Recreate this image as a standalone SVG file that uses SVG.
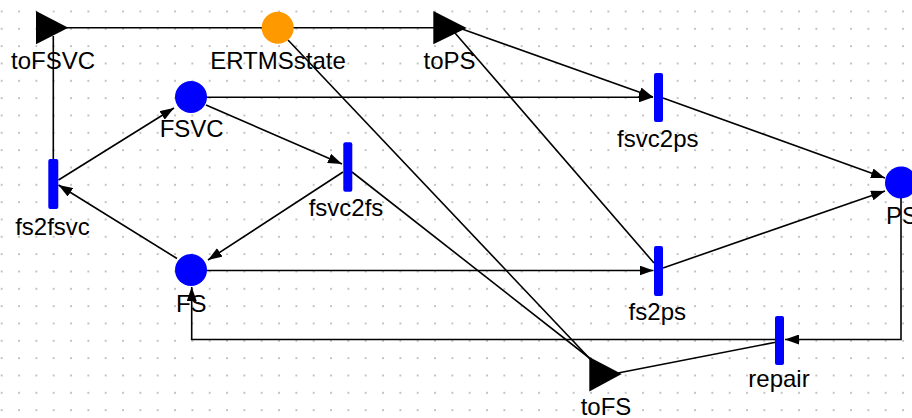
<svg xmlns="http://www.w3.org/2000/svg" width="912" height="418" viewBox="0 0 912 418">
<style>
.lbl{font-family:"Liberation Sans",Arial,sans-serif;font-size:24px;fill:#000;text-anchor:middle}
.place{fill:#0000ff}
.bar{fill:#0000ff}
.port{fill:#000}
.arc{stroke:#000;stroke-width:1.6;fill:none}
.arr{marker-end:url(#ah)}
</style>
<defs>
<pattern id="grid" x="0.7" y="10.5" width="17.333" height="17.333" patternUnits="userSpaceOnUse">
<rect x="0.3" y="0.3" width="1.4" height="1.4" fill="#8a8a8a"/>
</pattern>
<marker id="ah" markerUnits="userSpaceOnUse" markerWidth="14" markerHeight="10" refX="14" refY="5" orient="auto">
<path d="M0,0 L14,5 L0,10 z" fill="#000"/>
</marker>
</defs>
<rect width="912" height="418" fill="#fff"/>
<rect width="912" height="418" fill="url(#grid)"/>
<g id="connectors">
<line class="arc" x1="60" y1="27.7" x2="262" y2="27.7"/>
<line class="arc" x1="293" y1="27.7" x2="440" y2="27.7"/>
<line class="arc" x1="53.3" y1="36" x2="53.3" y2="160"/>
<line class="arc arr" x1="462" y1="29" x2="653" y2="97"/>
<line class="arc" x1="455" y1="33" x2="654" y2="263"/>
<line class="arc" x1="288" y1="40" x2="592" y2="361"/>
<line class="arc" x1="352" y1="172" x2="592" y2="360"/>
<line class="arc" x1="618" y1="373" x2="777" y2="342"/>
<line class="arc arr" x1="206" y1="97.3" x2="653" y2="97.3"/>
<line class="arc arr" x1="206" y1="105" x2="342" y2="164"/>
<line class="arc arr" x1="343" y1="172" x2="208" y2="260"/>
<line class="arc arr" x1="177" y1="258.5" x2="58.5" y2="185"/>
<line class="arc arr" x1="58.5" y1="180" x2="174" y2="108"/>
<line class="arc arr" x1="206" y1="270.5" x2="653.5" y2="270.5"/>
<line class="arc arr" x1="663" y1="98" x2="885" y2="178"/>
<line class="arc arr" x1="663" y1="268" x2="885" y2="191"/>
<polyline class="arc arr" points="901,198 901,339.5 785,339.5"/>
<polyline class="arc arr" points="775,339.5 191.7,339.5 191.7,287"/>
</g>
<g id="toFSVC"><polygon class="port" points="36,11 36,44.3 68.3,27.7"/><text class="lbl" x="53" y="69">toFSVC</text></g>
<g id="ERTMSstate"><circle cx="277.7" cy="27.7" r="16" fill="#ff9900"/><text class="lbl" x="278" y="69">ERTMSstate</text></g>
<g id="toPS"><polygon class="port" points="433.3,11 433.3,44.3 466.7,28"/><text class="lbl" x="449.5" y="69">toPS</text></g>
<g id="FSVC"><circle class="place" cx="191" cy="97" r="16"/><text class="lbl" x="191.7" y="137">FSVC</text></g>
<g id="fsvc2ps"><rect class="bar" x="654" y="73" width="9" height="49" rx="2"/><text class="lbl" x="657.8" y="147">fsvc2ps</text></g>
<g id="fsvc2fs"><rect class="bar" x="343.3" y="142.3" width="9" height="49.5" rx="2"/><text class="lbl" x="346" y="215.5">fsvc2fs</text></g>
<g id="fs2fsvc"><rect class="bar" x="48.3" y="159" width="10" height="50" rx="2"/><text class="lbl" x="52.5" y="234.5">fs2fsvc</text></g>
<g id="PS"><circle class="place" cx="901" cy="182.5" r="16"/><text class="lbl" x="886" y="224" style="text-anchor:start">PS</text></g>
<g id="FS"><circle class="place" cx="191" cy="270" r="16"/><text class="lbl" x="191.3" y="312">FS</text></g>
<g id="fs2ps"><rect class="bar" x="654" y="246" width="9" height="50" rx="2"/><text class="lbl" x="657.3" y="320">fs2ps</text></g>
<g id="repair"><rect class="bar" x="775" y="316" width="9" height="49" rx="2"/><text class="lbl" x="779" y="387">repair</text></g>
<g id="toFS"><polygon class="port" points="589.3,357 589.3,391.5 621.7,374"/><text class="lbl" x="606" y="415">toFS</text></g>
</svg>
